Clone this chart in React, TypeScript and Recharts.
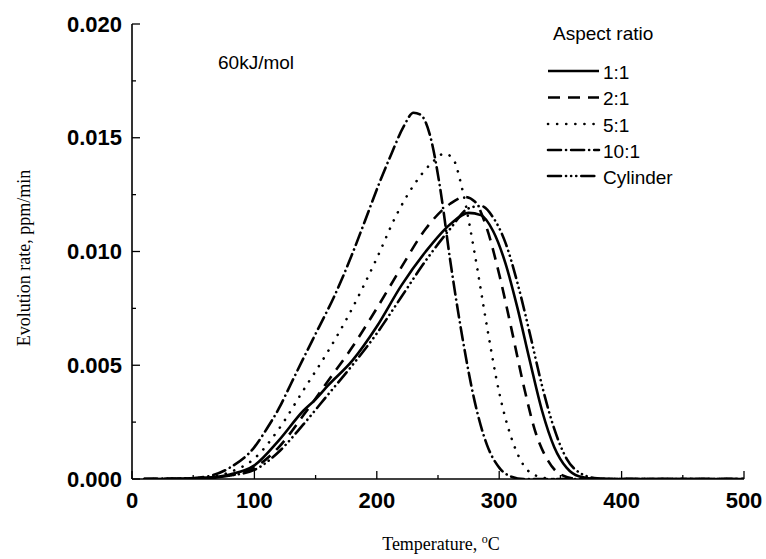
import { Line, LineChart, XAxis, YAxis } from "recharts";

// temperature (°C) and evolution rate (ppm/min) for each aspect ratio
const t11 = [10, 40, 60, 80, 100, 120, 140, 150, 160, 180, 200, 220, 240, 260, 275, 285, 295, 305, 315, 325, 335, 345, 355, 365, 380, 500];
const v11 = [0, 0.00001, 0.00005, 0.0002, 0.0006, 0.0017, 0.0030, 0.0035, 0.0041, 0.0052, 0.0067, 0.0085, 0.0100, 0.0112, 0.0117, 0.0116, 0.0109, 0.0095, 0.0075, 0.0052, 0.0030, 0.0014, 0.0005, 0.00012, 0, 0];

const t21 = [10, 40, 60, 80, 100, 120, 140, 160, 180, 200, 220, 240, 260, 272, 280, 290, 300, 310, 320, 330, 340, 350, 365, 500];
const v21 = [0, 0.00001, 0.00004, 0.00015, 0.0005, 0.0014, 0.0028, 0.0043, 0.0058, 0.0075, 0.0093, 0.0110, 0.0121, 0.0124, 0.0122, 0.0110, 0.0090, 0.0066, 0.0041, 0.0020, 0.0008, 0.0002, 0, 0];

const t51 = [10, 40, 60, 80, 100, 120, 140, 160, 177, 200, 216, 230, 245, 255, 262, 270, 280, 290, 300, 310, 320, 330, 345, 500];
const v51 = [0, 0.00001, 0.00006, 0.0003, 0.0009, 0.0022, 0.0039, 0.0056, 0.0072, 0.0097, 0.0116, 0.0129, 0.0139, 0.0143, 0.0141, 0.0127, 0.0099, 0.0067, 0.0038, 0.0018, 0.0006, 0.00015, 0, 0];

const t101 = [10, 40, 60, 80, 100, 110, 120, 130, 140, 153, 165, 180, 190, 202, 212, 222, 230, 236, 244, 252, 260, 270, 280, 290, 300, 310, 320, 500];
const v101 = [0, 0.00002, 0.0001, 0.0005, 0.0014, 0.0022, 0.0031, 0.0042, 0.0053, 0.0067, 0.0080, 0.0099, 0.0113, 0.0130, 0.0143, 0.0155, 0.0161, 0.0160, 0.0150, 0.0127, 0.0096, 0.0062, 0.0034, 0.0015, 0.0005, 0.0001, 0, 0];

const tCyl = [10, 40, 60, 80, 100, 120, 140, 160, 180, 200, 220, 240, 260, 275, 285, 295, 305, 315, 325, 335, 345, 355, 365, 380, 395, 500];
const vCyl = [0, 0.00001, 0.00004, 0.00015, 0.0004, 0.0012, 0.0024, 0.0037, 0.0050, 0.0064, 0.0080, 0.0096, 0.0110, 0.0119, 0.0120, 0.0115, 0.0104, 0.0086, 0.0064, 0.0041, 0.0022, 0.0009, 0.0003, 0.00003, 0, 0];

const xTicks = [0, 50, 100, 150, 200, 250, 300, 350, 400, 450, 500];
const xMajor = [0, 100, 200, 300, 400, 500];
const yTicks = [0, 0.0025, 0.005, 0.0075, 0.01, 0.0125, 0.015, 0.0175, 0.02];
const yMajor = [0, 0.005, 0.01, 0.015, 0.02];

const seriesNames = ["1:1", "2:1", "5:1", "10:1", "Cylinder"];
const dashes = ["", "12 8", "0.1 9", "13 5 0.1 5", "13 5 0.1 5 0.1 5 0.1 5"];

const pairs = (ts: number[], vs: number[]) => ts.map((t, i) => ({ t, v: vs[i] }));
const seriesData = [pairs(t11, v11), pairs(t21, v21), pairs(t51, v51), pairs(t101, v101), pairs(tCyl, vCyl)];

const W = 766;
const H = 559;
const BOLD = "'Liberation Sans', Arial, sans-serif";
const SERIF = "'Liberation Serif', 'Times New Roman', serif";

const isMajor = (list: number[], v: number) => list.some((m) => Math.abs(m - v) < 1e-9);

function BottomTick({ x, y, payload }: any) {
  const major = isMajor(xMajor, payload.value);
  return (
    <g>
      <line x1={x} y1={y} x2={x} y2={y - (major ? 8 : 4)} stroke="#000" strokeWidth={1.3} />
      {major ? (
        <text x={x} y={y + 21} textAnchor="middle" dominantBaseline="central" fontFamily={BOLD} fontWeight="bold" fontSize={22} fill="#000">
          {payload.value}
        </text>
      ) : null}
    </g>
  );
}

function TopTick({ x, y, payload }: any) {
  const major = isMajor(xMajor, payload.value);
  return <line x1={x} y1={y} x2={x} y2={y + (major ? 8 : 4)} stroke="#000" strokeWidth={1.3} />;
}

function LeftTick({ x, y, payload }: any) {
  const major = isMajor(yMajor, payload.value);
  return (
    <g>
      <line x1={x} y1={y} x2={x + (major ? 8 : 4)} y2={y} stroke="#000" strokeWidth={1.3} />
      {major ? (
        <text x={x - 10} y={y} textAnchor="end" dominantBaseline="central" fontFamily={BOLD} fontWeight="bold" fontSize={22} fill="#000">
          {payload.value.toFixed(3)}
        </text>
      ) : null}
    </g>
  );
}

function RightTick({ x, y, payload }: any) {
  const major = isMajor(yMajor, payload.value);
  return <line x1={x} y1={y} x2={x - (major ? 8 : 4)} y2={y} stroke="#000" strokeWidth={1.3} />;
}

const legendRows = [72, 98.5, 125, 151, 177];

export default function App() {
  return (
    <div style={{ position: "relative", width: W, height: H }}>
      {/* the 500 label reaches nearly to the window edge, so drop the body margin */}
      <style>{"body{margin:0}"}</style>
      <LineChart width={W} height={H} margin={{ top: 24, right: 22, left: 0, bottom: 8 }}>
        <XAxis
          xAxisId="b"
          type="number"
          dataKey="t"
          domain={[0, 500]}
          ticks={xTicks}
          interval={0}
          height={72}
          tickSize={0}
          tickMargin={0}
          tickLine={false}
          axisLine={{ stroke: "#000", strokeWidth: 1.6 }}
          tick={<BottomTick />}
          allowDataOverflow
        />
        <XAxis
          xAxisId="t"
          orientation="top"
          type="number"
          domain={[0, 500]}
          ticks={xTicks}
          interval={0}
          height={0}
          tickSize={0}
          tickMargin={0}
          tickLine={false}
          axisLine={{ stroke: "#000", strokeWidth: 1.6 }}
          tick={<TopTick />}
        />
        <YAxis
          yAxisId="l"
          type="number"
          domain={[0, 0.02]}
          ticks={yTicks}
          interval={0}
          width={132}
          tickSize={0}
          tickMargin={0}
          tickLine={false}
          axisLine={{ stroke: "#000", strokeWidth: 1.6 }}
          tick={<LeftTick />}
          allowDataOverflow
        />
        <YAxis
          yAxisId="r"
          orientation="right"
          type="number"
          domain={[0, 0.02]}
          ticks={yTicks}
          interval={0}
          width={0}
          tickSize={0}
          tickMargin={0}
          tickLine={false}
          axisLine={{ stroke: "#000", strokeWidth: 1.6 }}
          tick={<RightTick />}
        />
        {seriesData.map((d, i) => (
          <Line
            key={seriesNames[i]}
            xAxisId="b"
            yAxisId="l"
            data={d}
            dataKey="v"
            type="monotone"
            stroke="#000"
            strokeWidth={2.6}
            strokeDasharray={dashes[i] || undefined}
            strokeLinecap={i >= 2 ? "round" : "butt"}
            dot={false}
            activeDot={false}
            isAnimationActive={false}
          />
        ))}
      </LineChart>
      <svg width={W} height={H} style={{ position: "absolute", left: 0, top: 0, pointerEvents: "none" }}>
        <text x={218} y={62} dominantBaseline="central" fontFamily={BOLD} fontSize={19} fill="#000">
          60kJ/mol
        </text>
        <text x={553} y={33} dominantBaseline="central" fontFamily={BOLD} fontSize={19} fill="#000">
          Aspect ratio
        </text>
        {seriesNames.map((name, i) => (
          <g key={name}>
            <line
              x1={548}
              x2={599}
              y1={legendRows[i] - 1}
              y2={legendRows[i] - 1}
              stroke="#000"
              strokeWidth={2.6}
              strokeDasharray={dashes[i] || undefined}
              strokeLinecap={i >= 2 ? "round" : "butt"}
            />
            <text x={603} y={legendRows[i]} dominantBaseline="central" fontFamily={BOLD} fontSize={19} fill="#000">
              {name}
            </text>
          </g>
        ))}
        <text
          transform="translate(24, 258) rotate(-90)"
          textAnchor="middle"
          dominantBaseline="central"
          fontFamily={SERIF}
          fontSize={18}
          fill="#000"
        >
          Evolution rate, ppm/min
        </text>
        <text x={441} y={550} textAnchor="middle" fontFamily={SERIF} fontSize={18} fill="#000">
          Temperature, <tspan dy={-7} fontSize={12}>o</tspan>
          <tspan dy={7}>C</tspan>
        </text>
      </svg>
    </div>
  );
}
